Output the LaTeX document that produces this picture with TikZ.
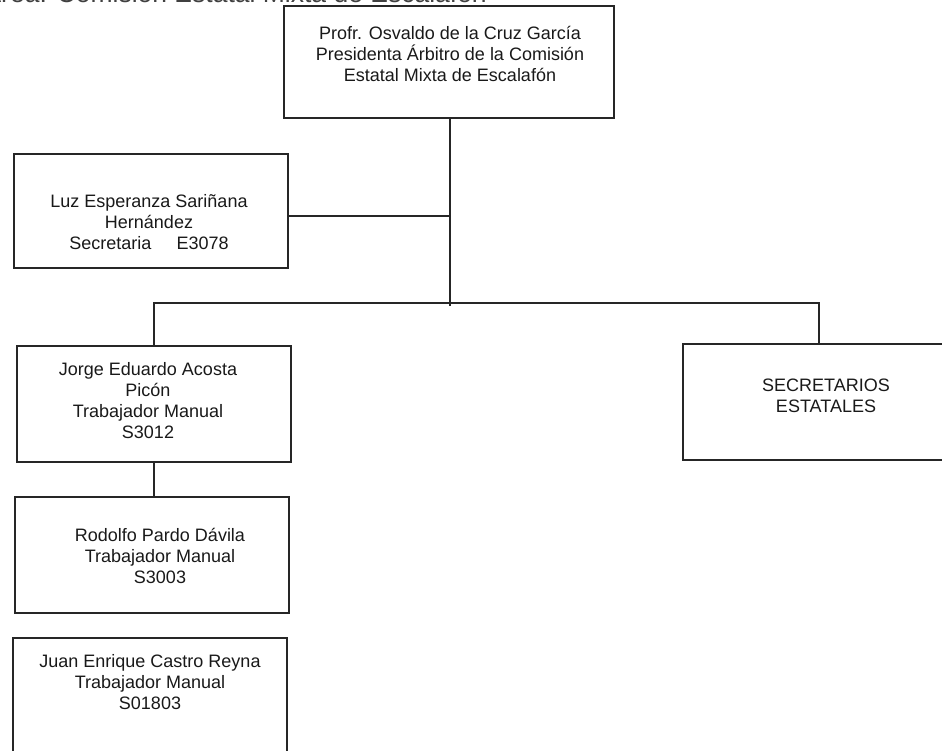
\documentclass[tikz,border=0pt]{standalone}
\usepackage{fontspec}
\setmainfont{Liberation Sans}
\begin{document}
\begin{tikzpicture}[x=1pt,y=-1pt,
  box/.style={draw=black!85, line width=2pt, rectangle, inner sep=0pt},
  txt/.style={align=center, inner sep=0pt, font=\fontsize{18}{21}\selectfont, text=black!90},
  conn/.style={draw=black!85, line width=1.2pt}]
\useasboundingbox (0,0) rectangle (942,751);
% title (cut off at top)
\node[anchor=base east, inner sep=0pt, font=\fontsize{26.5}{30}\selectfont, text=black!75] (title) at (487,2.5) {Área: Comisión Estatal Mixta de Escalafón};
% boxes
\node[box, minimum width=330pt, minimum height=112pt] (top) at (449,62) {};
\node[box, minimum width=274pt, minimum height=114pt] (sec) at (151,211) {};
\node[box, minimum width=274pt, minimum height=116pt] (jorge) at (154,404) {};
\node[box, minimum width=274pt, minimum height=116pt] (rod) at (152,555) {};
\node[box, minimum width=274pt, minimum height=120pt] (juan) at (150,698) {};
\node[box, minimum width=287pt, minimum height=116pt] (secr) at (826.5,402) {};
% texts
\node[txt] (toptxt) at (450,54) {Profr. Osvaldo de la Cruz García\\Presidenta Árbitro de la Comisión\\Estatal Mixta de Escalafón};
\node[txt] (sectxt) at (149,222) {Luz Esperanza Sariñana\\Hernández\\Secretaria\hspace{1.4em}E3078};
\node[txt] (jorgetxt) at (148,401) {Jorge Eduardo Acosta\\Picón\\Trabajador Manual\\S3012};
\node[txt] (rodtxt) at (160,556) {Rodolfo Pardo Dávila\\Trabajador Manual\\S3003};
\node[txt] (juantxt) at (150,682) {Juan Enrique Castro Reyna\\Trabajador Manual\\S01803};
\node[txt] (secrtxt) at (826,396) {SECRETARIOS\\ESTATALES};
% connectors
\coordinate (jct) at (450,306);
\coordinate (sj) at (450,216);
\coordinate (bl) at (154,303);
\coordinate (br) at (819,303);
\draw[conn] (jct |- top.south) -- (jct);
\draw[conn] (sec.east |- sj) -- (sj);
\draw[conn] (bl |- jorge.north) -- (bl) -- (br) -- (br |- secr.north);
\draw[conn] (bl |- jorge.south) -- (bl |- rod.north);
\end{tikzpicture}
\end{document}
